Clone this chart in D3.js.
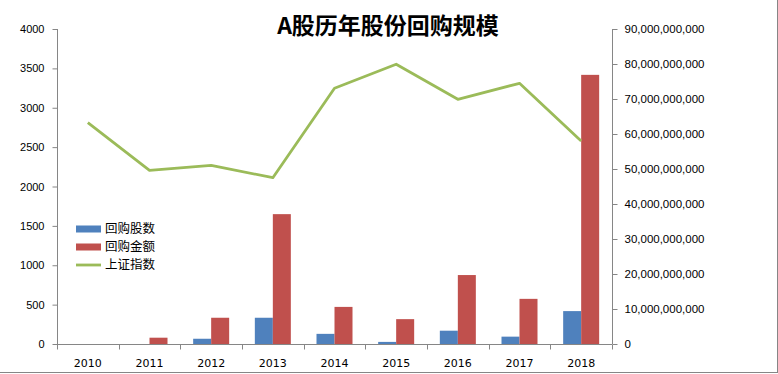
<!DOCTYPE html>
<html>
<head>
<meta charset="utf-8">
<script src="https://cdn.jsdelivr.net/npm/d3@7"></script>
<style>
  body { margin: 0; background: #fff; }
  svg { display: block; font-family: "DejaVu Sans", sans-serif; }
  .axis path, .axis line { stroke: #868686; }
  .axis text { fill: #000; font-size: 11px; }
</style>
</head>
<body>
<div id="chart"></div>
<script>
const years = ["2010", "2011", "2012", "2013", "2014", "2015", "2016", "2017", "2018"];
// right axis (bars)
const shares = [0, 0, 1.5e9, 7.5e9, 2.9e9, 0.6e9, 3.8e9, 2.1e9, 9.4e9];
const amounts = [0, 1.8e9, 7.5e9, 37.1e9, 10.6e9, 7.1e9, 19.7e9, 12.9e9, 76.9e9];
// left axis (line)
const shIndex = [2810, 2206, 2269, 2112, 3247, 3552, 3107, 3310, 2578];
const leftTicks = [0, 500, 1000, 1500, 2000, 2500, 3000, 3500, 4000];
const rightTicks = d3.range(0, 90e9 + 1, 10e9);

const W = 778, H = 374;
const margin = { top: 29, right: 166, bottom: 30, left: 57 };
const width = W - margin.left - margin.right;
const height = 344 - margin.top;

const svg = d3.select("#chart").append("svg")
    .attr("width", W)
    .attr("height", H);

// outer border (right + bottom only visible)
svg.append("line").attr("x1", 777.5).attr("x2", 777.5).attr("y1", 0).attr("y2", 373)
    .attr("stroke", "#868686");
svg.append("line").attr("x1", 0).attr("x2", 778).attr("y1", 372.5).attr("y2", 372.5)
    .attr("stroke", "#868686");

const g = svg.append("g").attr("transform", "translate(" + margin.left + "," + margin.top + ")");

const x = d3.scaleBand().domain(years).range([0, width]);
const yL = d3.scaleLinear().domain([0, 4000]).range([height, 0]);
const yR = d3.scaleLinear().domain([0, 90e9]).range([height, 0]);

const barW = 18;

// bars
g.selectAll(".bar-shares").data(years).enter().append("rect")
    .attr("x", d => x(d) + x.bandwidth() / 2 - barW)
    .attr("y", (d, i) => yR(shares[i]))
    .attr("width", barW)
    .attr("height", (d, i) => height - yR(shares[i]))
    .attr("fill", "#4F81BD");

g.selectAll(".bar-amount").data(years).enter().append("rect")
    .attr("x", d => x(d) + x.bandwidth() / 2)
    .attr("y", (d, i) => yR(amounts[i]))
    .attr("width", barW)
    .attr("height", (d, i) => height - yR(amounts[i]))
    .attr("fill", "#C0504D");

// line
const line = d3.line()
    .x((d, i) => x(years[i]) + x.bandwidth() / 2)
    .y(d => yL(d));

g.append("path").datum(shIndex)
    .attr("d", line)
    .attr("fill", "none")
    .attr("stroke", "#9BBB59")
    .attr("stroke-width", 2.8)
    .attr("stroke-linejoin", "round");

// axes
const left = g.append("g").attr("class", "axis")
    .attr("transform", "translate(0.5,0)")
    .call(d3.axisLeft(yL).tickValues(leftTicks).tickSize(5).tickPadding(8).tickFormat(d3.format("d")));
left.select(".domain").attr("d", "M0," + height + "V0");

const right = g.append("g").attr("class", "axis")
    .attr("transform", "translate(" + (width + 0.5) + ",0)")
    .call(d3.axisRight(yR).tickValues(rightTicks).tickSize(5).tickPadding(7).tickFormat(d3.format(",")));
right.select(".domain").attr("d", "M0," + height + "V0");
right.selectAll("text").style("font-size", "11.5px");

const bottom = g.append("g").attr("class", "axis")
    .attr("transform", "translate(0," + (height + 0.5) + ")");
bottom.append("line").attr("x1", 0).attr("x2", width).attr("stroke", "#868686");
bottom.selectAll(".tk").data(d3.range(years.length + 1)).enter().append("line")
    .attr("x1", i => Math.round(i * x.step()) + 0.5)
    .attr("x2", i => Math.round(i * x.step()) + 0.5)
    .attr("y1", 0).attr("y2", 5)
    .attr("stroke", "#868686");
bottom.selectAll("text").data(years).enter().append("text")
    .attr("x", d => x(d) + x.bandwidth() / 2)
    .attr("y", 22)
    .attr("text-anchor", "middle")
    .text(d => d);

// title
svg.append("text")
    .attr("x", 388)
    .attr("y", 34)
    .attr("text-anchor", "middle")
    .style("font-family", "'Noto Sans CJK SC', sans-serif")
    .style("font-weight", "bold")
    .style("font-size", "23px")
    .text("A股历年股份回购规模");

// legend
const legend = svg.append("g").attr("transform", "translate(76,229)");
const items = [
    { name: "回购股数", color: "#4F81BD", type: "rect" },
    { name: "回购金额", color: "#C0504D", type: "rect" },
    { name: "上证指数", color: "#9BBB59", type: "line" }
];
items.forEach((it, i) => {
    const row = legend.append("g").attr("transform", "translate(0," + i * 18 + ")");
    if (it.type === "rect") {
        row.append("rect").attr("x", 0).attr("y", -3.5).attr("width", 25).attr("height", 7).attr("fill", it.color);
    } else {
        row.append("line").attr("x1", 0).attr("x2", 25).attr("y1", 0).attr("y2", 0)
            .attr("stroke", it.color).attr("stroke-width", 2.8);
    }
    row.append("text")
        .attr("x", 29)
        .attr("y", 0)
        .attr("dy", "0.35em")
        .style("font-family", "'Noto Sans CJK SC', sans-serif")
        .style("font-size", "12.5px")
        .text(it.name);
});
</script>
</body>
</html>
